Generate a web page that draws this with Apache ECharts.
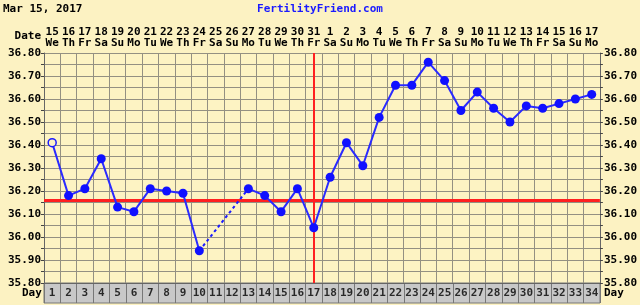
<!DOCTYPE html>
<html><head><meta charset="utf-8">
<script src="https://cdn.jsdelivr.net/npm/echarts@6/dist/echarts.min.js"></script>
<style>html,body{margin:0;padding:0;background:#fcf2c2;}#c{width:640px;height:305px;}</style>
</head><body><div id="c"></div>
<script>
var days = ['1','2','3','4','5','6','7','8','9','10','11','12','13','14','15','16','17','18','19','20','21','22','23','24','25','26','27','28','29','30','31','32','33','34'];
var dates = ['15','16','17','18','19','20','21','22','23','24','25','26','27','28','29','30','31','1','2','3','4','5','6','7','8','9','10','11','12','13','14','15','16','17'];
var weekdays = ['We','Th','Fr','Sa','Su','Mo','Tu','We','Th','Fr','Sa','Su','Mo','Tu','We','Th','Fr','Sa','Su','Mo','Tu','We','Th','Fr','Sa','Su','Mo','Tu','We','Th','Fr','Sa','Su','Mo'];
var temps = [36.41,36.18,36.21,36.34,36.13,36.11,36.21,36.20,36.19,35.94,null,null,36.21,36.18,36.11,36.21,36.04,36.26,36.41,36.31,36.52,36.66,36.66,36.76,36.68,36.55,36.63,36.56,36.50,36.57,36.56,36.58,36.60,36.62];
var coverline = 36.165;
var ovulationDay = '17';
var titleText = 'Mar 15, 2017';
var siteText = 'FertilityFriend.com';

var FONT = 'DejaVu Sans Mono';
var GRID = '#949082';
var BG = '#fdf3c3';
var dateLabels = dates.map(function(d,i){return d+'\n'+weekdays[i];});

var solid = temps.map(function(v,i){
  if (v === null) return null;
  if (i === 0) return {value:v, symbol:'circle', symbolSize:8, itemStyle:{color:BG, borderColor:'#1a1aff', borderWidth:1.5}};
  return v;
});
var bridge = temps.map(function(v,i){
  var nextIsNull = (i+1 < temps.length && temps[i+1] === null);
  var prevIsNull = (i-1 >= 0 && temps[i-1] === null);
  if (v !== null && (nextIsNull || prevIsNull)) return v;
  return null;
});
var dayRow = days.map(function(){return 0.5;});

function yFmt(v){
  var r = Math.round(v*100);
  if (r % 10 !== 0) return '';
  return (r/100).toFixed(2);
}

var chart = echarts.init(document.getElementById('c'), null, {renderer:'canvas'});
chart.setOption({
  animation:false,
  backgroundColor:'#fcf2c2',
  title:[
    {text:titleText, left:3, top:4, padding:0, textStyle:{fontFamily:FONT, fontSize:11, fontWeight:'bold', color:'#000'}},
    {text:siteText, left:'center', top:4, padding:0, textStyle:{fontFamily:FONT, fontSize:11, fontWeight:'bold', color:'#1a1aff'}}
  ],
  graphic:[
    {type:'text', right:599, top:31, style:{text:'Date', font:'bold 11px "DejaVu Sans Mono"', fill:'#000'}},
    {type:'text', left:22, top:288, style:{text:'Day', font:'bold 11px "DejaVu Sans Mono"', fill:'#000'}},
    {type:'text', left:604, top:288, style:{text:'Day', font:'bold 11px "DejaVu Sans Mono"', fill:'#000'}}
  ],
  grid:[
    {left:44, right:40, top:53, height:230, show:true, backgroundColor:BG, borderWidth:0},
    {left:44, right:40, top:283, height:20, show:true, backgroundColor:'#c8c8c8', borderColor:'#777', borderWidth:1}
  ],
  xAxis:[
    {type:'category', gridIndex:0, data:days, boundaryGap:true,
     axisLine:{show:true, lineStyle:{color:'#666', width:1}}, axisTick:{show:false}, axisLabel:{show:false},
     splitLine:{show:true, interval:0, lineStyle:{color:GRID, width:1}}},
    {type:'category', gridIndex:0, position:'top', data:dateLabels, boundaryGap:true,
     axisLine:{show:false}, axisTick:{show:false},
     axisLabel:{show:true, interval:0, margin:4, fontFamily:FONT, fontSize:11, fontWeight:'bold', color:'#000', lineHeight:11}},
    {type:'category', gridIndex:1, data:days, boundaryGap:true,
     axisLine:{show:false}, axisTick:{show:false}, axisLabel:{show:false},
     splitLine:{show:true, interval:0, lineStyle:{color:'#777', width:1}}}
  ],
  yAxis:[
    {type:'value', gridIndex:0, min:35.80, max:36.80, interval:0.05, position:'left',
     axisLine:{show:true, lineStyle:{color:'#666'}}, axisTick:{show:true, length:3, lineStyle:{color:'#444'}},
     axisLabel:{formatter:yFmt, margin:3, fontFamily:FONT, fontSize:11, fontWeight:'bold', color:'#000'},
     splitLine:{show:true, lineStyle:{color:GRID, width:1}}},
    {type:'value', gridIndex:0, min:35.80, max:36.80, interval:0.05, position:'right',
     axisLine:{show:true, lineStyle:{color:'#666'}}, axisTick:{show:true, length:3, lineStyle:{color:'#444'}},
     axisLabel:{formatter:yFmt, margin:4, fontFamily:FONT, fontSize:11, fontWeight:'bold', color:'#000'},
     splitLine:{show:false}},
    {type:'value', gridIndex:1, min:0, max:1, show:false}
  ],
  series:[
    {type:'line', xAxisIndex:0, yAxisIndex:0, data:bridge, connectNulls:true, showSymbol:false, symbol:'none',
     lineStyle:{color:'#1a1aff', width:2, type:[3,3]}, z:3},
    {type:'line', xAxisIndex:0, yAxisIndex:0, data:solid, connectNulls:false, showAllSymbol:true,
     symbol:'circle', symbolSize:9, itemStyle:{color:'#1010ff'},
     lineStyle:{color:'#2a2aff', width:2}, z:4,
     markLine:{silent:true, symbol:'none', label:{show:false}, z:2,
       data:[
         {yAxis:coverline, lineStyle:{color:'#ff2020', width:3, type:'solid'}},
         {xAxis:ovulationDay, lineStyle:{color:'#ff2020', width:2, type:'solid'}}
       ]}},
    {type:'scatter', xAxisIndex:2, yAxisIndex:2, data:dayRow, symbolSize:0, silent:true,
     label:{show:true, position:'inside', formatter:function(p){return days[p.dataIndex];}, fontFamily:FONT, fontSize:11, fontWeight:'bold', color:'#000'}}
  ]
});
</script>
</body></html>
